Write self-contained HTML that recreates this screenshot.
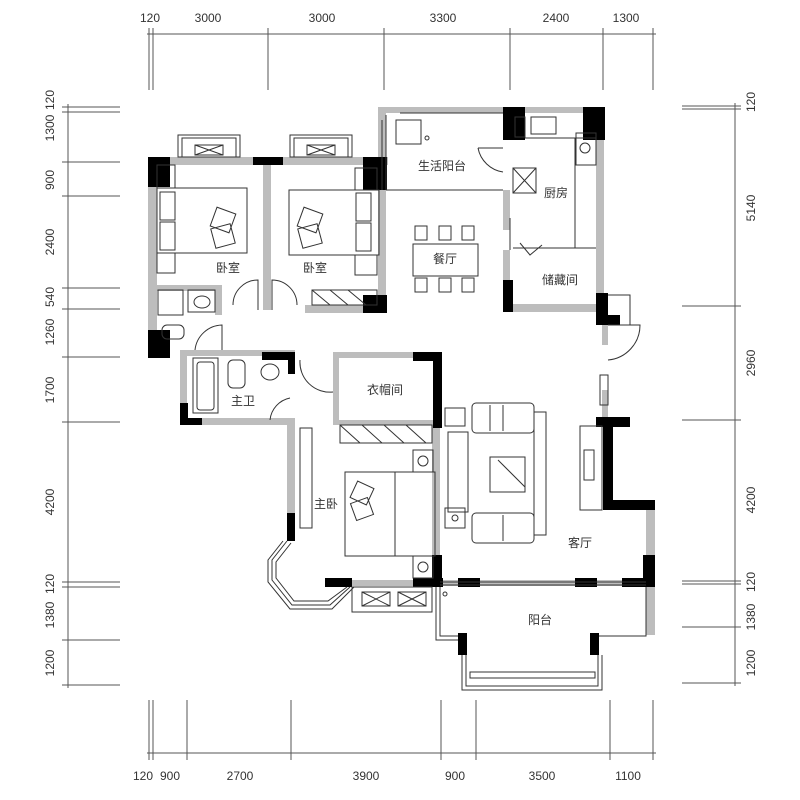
<!DOCTYPE html>
<html><head><meta charset="utf-8"><style>
html,body{margin:0;padding:0;background:#fff}
svg{display:block}
text{font-family:"Liberation Sans","Noto Sans CJK SC",sans-serif;fill:#333}
.d{font-size:12px;fill:#444}
.r{font-size:12px;fill:#222}
</style></head><body>
<svg width="800" height="800" viewBox="0 0 800 800" xmlns="http://www.w3.org/2000/svg">
<g stroke="#555" stroke-width="1" fill="none">
<line x1="147" y1="34" x2="656" y2="34"/>
<g><line x1="149" y1="28" x2="149" y2="90"/><line x1="153" y1="28" x2="153" y2="90"/><line x1="268" y1="28" x2="268" y2="90"/><line x1="384" y1="28" x2="384" y2="90"/><line x1="510" y1="28" x2="510" y2="90"/><line x1="603" y1="28" x2="603" y2="90"/><line x1="653" y1="28" x2="653" y2="90"/></g>
<line x1="147" y1="753" x2="656" y2="753"/>
<g><line x1="149" y1="700" x2="149" y2="760"/><line x1="153" y1="700" x2="153" y2="760"/><line x1="187" y1="700" x2="187" y2="760"/><line x1="291" y1="700" x2="291" y2="760"/><line x1="441" y1="700" x2="441" y2="760"/><line x1="476" y1="700" x2="476" y2="760"/><line x1="610" y1="700" x2="610" y2="760"/><line x1="653" y1="700" x2="653" y2="760"/></g>
<line x1="68" y1="104" x2="68" y2="688"/>
<g><line x1="62" y1="107" x2="120" y2="107"/><line x1="62" y1="112" x2="120" y2="112"/><line x1="62" y1="162" x2="120" y2="162"/><line x1="62" y1="196" x2="120" y2="196"/><line x1="62" y1="288" x2="120" y2="288"/><line x1="62" y1="309" x2="120" y2="309"/><line x1="62" y1="357" x2="120" y2="357"/><line x1="62" y1="422" x2="120" y2="422"/><line x1="62" y1="582" x2="120" y2="582"/><line x1="62" y1="587" x2="120" y2="587"/><line x1="62" y1="640" x2="120" y2="640"/><line x1="62" y1="685" x2="120" y2="685"/></g>
<line x1="735" y1="103" x2="735" y2="686"/>
<g><line x1="682" y1="106" x2="741" y2="106"/><line x1="682" y1="109" x2="741" y2="109"/><line x1="682" y1="306" x2="741" y2="306"/><line x1="682" y1="420" x2="741" y2="420"/><line x1="682" y1="581" x2="741" y2="581"/><line x1="682" y1="584" x2="741" y2="584"/><line x1="682" y1="627" x2="741" y2="627"/><line x1="682" y1="683" x2="741" y2="683"/></g>
</g>
<g class="d" text-anchor="middle">
<text x="150" y="22">120</text><text x="208" y="22">3000</text><text x="322" y="22">3000</text><text x="443" y="22">3300</text><text x="556" y="22">2400</text><text x="626" y="22">1300</text>
<text x="143" y="780">120</text><text x="170" y="780">900</text><text x="240" y="780">2700</text><text x="366" y="780">3900</text><text x="455" y="780">900</text><text x="542" y="780">3500</text><text x="628" y="780">1100</text>
</g>
<g class="d" text-anchor="middle">
<text transform="translate(54,100) rotate(-90)">120</text>
<text transform="translate(54,128) rotate(-90)">1300</text>
<text transform="translate(54,180) rotate(-90)">900</text>
<text transform="translate(54,242) rotate(-90)">2400</text>
<text transform="translate(54,297) rotate(-90)">540</text>
<text transform="translate(54,332) rotate(-90)">1260</text>
<text transform="translate(54,390) rotate(-90)">1700</text>
<text transform="translate(54,502) rotate(-90)">4200</text>
<text transform="translate(54,584) rotate(-90)">120</text>
<text transform="translate(54,615) rotate(-90)">1380</text>
<text transform="translate(54,663) rotate(-90)">1200</text>
<text transform="translate(755,102) rotate(-90)">120</text>
<text transform="translate(755,208) rotate(-90)">5140</text>
<text transform="translate(755,363) rotate(-90)">2960</text>
<text transform="translate(755,500) rotate(-90)">4200</text>
<text transform="translate(755,582) rotate(-90)">120</text>
<text transform="translate(755,617) rotate(-90)">1380</text>
<text transform="translate(755,663) rotate(-90)">1200</text>
</g>

<g fill="#bdbdbd">
<rect x="148" y="157" width="9" height="200"/>
<rect x="148" y="157" width="240" height="8"/>
<rect x="263" y="165" width="8" height="145"/>
<rect x="378" y="107" width="8" height="205"/>
<rect x="305" y="305" width="80" height="8"/>
<rect x="378" y="107" width="227" height="6"/>
<rect x="596" y="110" width="8" height="190"/>
<rect x="503" y="190" width="7" height="40"/>
<rect x="503" y="250" width="7" height="60"/>
<rect x="503" y="304" width="100" height="8"/>
<rect x="157" y="285" width="65" height="6"/>
<rect x="215" y="285" width="7" height="30"/>
<rect x="180" y="350" width="115" height="6"/>
<rect x="180" y="350" width="7" height="75"/>
<rect x="180" y="418" width="115" height="7"/>
<rect x="287" y="418" width="8" height="110"/>
<rect x="333" y="352" width="107" height="6"/>
<rect x="333" y="352" width="6" height="73"/>
<rect x="333" y="420" width="107" height="5"/>
<rect x="432" y="425" width="8" height="160"/>
<rect x="325" y="580" width="325" height="6"/>
<rect x="646" y="505" width="9" height="130"/>
<rect x="602" y="325" width="6" height="20"/>
<rect x="602" y="390" width="6" height="30"/>
</g>
<g fill="#000">
<rect x="148" y="157" width="22" height="30"/>
<rect x="148" y="330" width="22" height="28"/>
<rect x="253" y="157" width="30" height="8"/>
<rect x="363" y="157" width="24" height="33"/>
<rect x="363" y="295" width="24" height="18"/>
<rect x="503" y="107" width="22" height="33"/>
<rect x="583" y="107" width="22" height="33"/>
<rect x="503" y="280" width="10" height="32"/>
<rect x="596" y="293" width="12" height="32"/>
<rect x="596" y="315" width="24" height="10"/>
<rect x="180" y="403" width="8" height="22"/>
<rect x="180" y="418" width="22" height="7"/>
<rect x="262" y="352" width="33" height="8"/>
<rect x="288" y="352" width="7" height="22"/>
<rect x="413" y="352" width="27" height="9"/>
<rect x="433" y="352" width="9" height="76"/>
<rect x="287" y="513" width="8" height="28"/>
<rect x="325" y="578" width="27" height="9"/>
<rect x="413" y="578" width="30" height="9"/>
<rect x="432" y="555" width="10" height="32"/>
<rect x="458" y="578" width="22" height="9"/>
<rect x="575" y="578" width="22" height="9"/>
<rect x="622" y="578" width="28" height="9"/>
<rect x="643" y="555" width="12" height="32"/>
<rect x="596" y="417" width="34" height="10"/>
<rect x="603" y="417" width="10" height="92"/>
<rect x="603" y="500" width="52" height="10"/>
<rect x="458" y="633" width="9" height="22"/>
<rect x="590" y="633" width="9" height="22"/>
</g>
<g stroke="#333" stroke-width="1" fill="none">
<rect x="178" y="135" width="62" height="22"/><rect x="182" y="138" width="54" height="19"/>
<rect x="195" y="145" width="28" height="10"/><path d="M195 145 L223 155 M223 145 L195 155"/>
<rect x="290" y="135" width="62" height="22"/><rect x="294" y="138" width="54" height="19"/>
<rect x="307" y="145" width="28" height="10"/><path d="M307 145 L335 155 M335 145 L307 155"/>
<line x1="386" y1="115" x2="386" y2="190"/><line x1="382" y1="120" x2="382" y2="190"/>
<line x1="400" y1="113" x2="503" y2="113"/>
<line x1="386" y1="190" x2="503" y2="190"/>
<rect x="396" y="120" width="25" height="24"/>
<circle cx="427" cy="138" r="2"/>
<path d="M478 148 A30 30 0 0 0 503 172"/><line x1="478" y1="148" x2="503" y2="148"/>
<rect x="513" y="168" width="23" height="25"/><path d="M513 168 L536 193 M536 168 L513 193"/>
<line x1="575" y1="138" x2="575" y2="248"/><line x1="525" y1="138" x2="596" y2="138"/>
<line x1="513" y1="248" x2="596" y2="248"/>
<rect x="531" y="117" width="25" height="17"/><rect x="576" y="133" width="20" height="32"/><circle cx="585" cy="148" r="5"/>
<rect x="515" y="117" width="10" height="20"/>
<path d="M520 243 L530 255 L542 245"/>
<line x1="510" y1="218" x2="510" y2="250"/>
<rect x="413" y="244" width="65" height="32"/>
<rect x="415" y="226" width="12" height="14"/><rect x="439" y="226" width="12" height="14"/><rect x="462" y="226" width="12" height="14"/>
<rect x="415" y="278" width="12" height="14"/><rect x="439" y="278" width="12" height="14"/><rect x="462" y="278" width="12" height="14"/>
<rect x="157" y="188" width="90" height="65"/><rect x="160" y="192" width="15" height="28"/><rect x="160" y="222" width="15" height="28"/>
<rect x="213" y="210" width="20" height="20" transform="rotate(20 223 220)"/><rect x="213" y="226" width="20" height="20" transform="rotate(-15 223 236)"/>
<rect x="157" y="253" width="18" height="20"/><rect x="157" y="165" width="18" height="23"/>
<rect x="289" y="190" width="90" height="65"/><rect x="356" y="193" width="15" height="28"/><rect x="356" y="223" width="15" height="28"/>
<rect x="300" y="210" width="20" height="20" transform="rotate(20 310 220)"/><rect x="300" y="226" width="20" height="20" transform="rotate(-15 310 236)"/>
<rect x="355" y="255" width="22" height="20"/><rect x="355" y="168" width="22" height="22"/>
<rect x="312" y="290" width="65" height="15"/><path d="M312 290 L330 305 M330 290 L348 305 M348 290 L366 305"/>
<path d="M258 310 L258 280 A25 25 0 0 0 233 305"/>
<path d="M272 310 L272 280 A25 25 0 0 1 297 305"/>
<rect x="158" y="290" width="25" height="25"/><rect x="188" y="290" width="27" height="22"/><ellipse cx="202" cy="302" rx="8" ry="6"/>
<rect x="162" y="325" width="22" height="14" rx="5"/>
<path d="M195 350 A28 28 0 0 1 222 325 L222 350"/>
<rect x="193" y="358" width="25" height="55"/><rect x="197" y="362" width="17" height="48" rx="3"/>
<rect x="228" y="360" width="17" height="28" rx="5"/><ellipse cx="270" cy="372" rx="9" ry="8"/>
<path d="M270 420 A25 25 0 0 1 290 398"/>
<path d="M300 360 A30 30 0 0 0 333 392"/>
<rect x="300" y="428" width="12" height="100"/>
<rect x="340" y="425" width="92" height="18"/><path d="M340 425 L360 443 M362 425 L382 443 M384 425 L404 443 M406 425 L426 443"/>
<rect x="345" y="472" width="90" height="84"/><rect x="395" y="472" width="40" height="84"/>
<rect x="353" y="484" width="18" height="18" transform="rotate(25 362 493)"/><rect x="353" y="500" width="18" height="18" transform="rotate(-20 362 509)"/>
<rect x="413" y="450" width="20" height="22"/><circle cx="423" cy="461" r="5"/>
<rect x="413" y="556" width="20" height="22"/><circle cx="423" cy="567" r="5"/>
<path d="M287 541 L272 560 L272 580 L292 605 L330 605 L350 587 M283 541 L268 560 L268 582 L290 609 L332 609 L354 587 M291 543 L276 562 L276 578 L294 601 L328 601 L347 587"/>
<rect x="352" y="587" width="80" height="25"/>
<rect x="362" y="592" width="28" height="14"/><path d="M362 592 L390 606 M390 592 L362 606"/>
<rect x="398" y="592" width="28" height="14"/><path d="M398 592 L426 606 M426 592 L398 606"/>
<rect x="472" y="403" width="62" height="30" rx="4"/><line x1="490" y1="405" x2="490" y2="431"/><line x1="503" y1="405" x2="503" y2="431"/>
<rect x="472" y="513" width="62" height="30" rx="4"/><line x1="503" y1="515" x2="503" y2="541"/>
<rect x="534" y="412" width="12" height="123"/>
<rect x="448" y="432" width="20" height="80"/>
<rect x="490" y="457" width="35" height="35"/><path d="M498 460 L525 487"/>
<rect x="445" y="408" width="20" height="18"/><rect x="445" y="508" width="20" height="20"/><circle cx="455" cy="518" r="3"/>
<rect x="580" y="426" width="22" height="84"/><rect x="584" y="450" width="10" height="30"/>
<path d="M608 325 L640 325 A35 35 0 0 1 608 360"/>
<rect x="600" y="375" width="8" height="30"/>
<path d="M608 295 L630 295 L630 325"/>
<line x1="440" y1="582" x2="646" y2="582"/><line x1="440" y1="585" x2="646" y2="585"/>
<path d="M436 587 L436 640 L458 640 M440 587 L440 636 L458 636"/>
<path d="M599 636 L646 636 L646 587"/>
<path d="M462 655 L462 690 L602 690 L602 655 M466 655 L466 686 L598 686 L598 655"/>
<rect x="470" y="672" width="125" height="6"/>
<circle cx="445" cy="594" r="2"/>
</g>
<g class="r" text-anchor="middle">
<text x="228" y="272">卧室</text>
<text x="315" y="272">卧室</text>
<text x="442" y="170">生活阳台</text>
<text x="556" y="197">厨房</text>
<text x="445" y="263">餐厅</text>
<text x="560" y="284">储藏间</text>
<text x="385" y="394">衣帽间</text>
<text x="243" y="405">主卫</text>
<text x="326" y="508">主卧</text>
<text x="580" y="547">客厅</text>
<text x="540" y="624">阳台</text>
</g>
</svg>
</body></html>
